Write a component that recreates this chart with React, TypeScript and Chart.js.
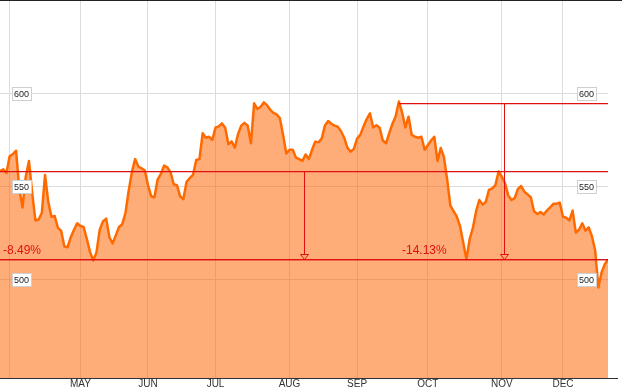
import React, { useEffect, useRef } from "react";
import { Chart, registerables } from "chart.js";

Chart.register(...registerables);

// ---- data ----
const startIndex = -3; // trading-day index of first point (Apr 1 = 0)
const closeValues = [
  558.5, 559.5, 557.5, 566.5, 567.7, 569.5, 549, 539, 555.5, 564,
  547, 532, 532.5, 536, 556.5, 542, 534, 534.4, 528, 526.5,
  518, 517.6, 523, 527, 530.5, 529, 528.5, 522, 515, 510.5,
  515, 527, 531.5, 533, 523, 519.7, 524, 528.5, 530, 536,
  548, 558, 565, 561, 560, 559, 551, 545, 544.5, 554,
  557, 561.5, 560.6, 558, 551.5, 551, 545, 543.4, 552.8, 554.8,
  556.5, 564.5, 565, 578.9, 576.5, 577, 575.3, 581.9, 582.6, 584.2,
  581.9, 573, 574.5, 571.1, 578.5, 583, 584.5, 583, 573.5, 595,
  592, 593, 595.5, 594, 591.5, 589.8, 589, 587, 578, 568,
  570, 570, 565.8, 565, 564, 567.5, 565, 570, 574.4, 574,
  576, 583, 585.5, 584, 583, 582.4, 580, 576.5, 571, 569,
  570.5, 576, 578, 582.5, 586.5, 589.6, 582, 583.2, 581.9, 575,
  573.5, 579, 584, 588, 596, 590, 582, 587.8, 578, 577,
  576.5, 577, 570, 572.5, 575, 577, 564, 571, 566, 554,
  540, 537, 534, 529, 520, 511.2, 522, 528, 537, 543,
  540.5, 542, 548.5, 549.3, 551, 558.3, 555.5, 552, 545.5, 543,
  544, 549, 550.5, 547.5, 546, 544.5, 537, 535.5, 536.5, 535.2,
  537.3, 539, 541, 541, 541.6, 534, 533.5, 532, 537.3, 525.5,
  527, 530.5, 526.5, 528.3, 523.5, 516, 496, 504, 508.5, 511,
];
const monthTickIndex = [0, 22, 43, 64, 87, 108, 130, 153, 172];
const monthTickLabels = ["", "MAY", "JUN", "JUL", "AUG", "SEP", "OCT", "NOV", "DEC"];
const yTickValues = [500, 550, 600];
const yMin = 447.3;
const yMax = 650;

const drawdownHighs = [558.5, 595.2];
const drawdownLows = [511.1, 511.1];
const drawdownStartIndex = [-3, 121];
const drawdownArrowIndex = [91.5, 153.7];
const drawdownLabels = ["-8.49%", "-14.13%"];

const RED = "#e01010";

const overlayPlugin = {
  id: "overlay",
  afterDatasetsDraw(chart: any) {
    const { ctx, chartArea, scales } = chart;
    const xs = scales.x;
    const ys = scales.y;
    ctx.save();

    // red drawdown lines
    ctx.strokeStyle = RED;
    for (let k = 0; k < drawdownHighs.length; k++) {
      const x0 = Math.round(xs.getPixelForValue(drawdownStartIndex[k]));
      const x1 = chartArea.right;
      const yh = Math.round(ys.getPixelForValue(drawdownHighs[k])) + 0.5;
      const yl = Math.round(ys.getPixelForValue(drawdownLows[k])) + 0.5;
      ctx.lineWidth = 1.25;
      ctx.beginPath();
      ctx.moveTo(x0, yh);
      ctx.lineTo(x1, yh);
      ctx.moveTo(0, yl);
      ctx.lineTo(x1, yl);
      ctx.stroke();
      // arrow
      ctx.lineWidth = 1;
      const xa = Math.round(xs.getPixelForValue(drawdownArrowIndex[k])) + 0.5;
      ctx.beginPath();
      ctx.moveTo(xa, yh);
      ctx.lineTo(xa, yl - 5);
      ctx.stroke();
      ctx.beginPath();
      ctx.moveTo(xa - 4, yl - 5);
      ctx.lineTo(xa + 4, yl - 5);
      ctx.lineTo(xa, yl);
      ctx.closePath();
      ctx.stroke();
      // label
      ctx.fillStyle = RED;
      ctx.font = "12px 'Liberation Sans', Arial, sans-serif";
      ctx.textAlign = "left";
      ctx.textBaseline = "alphabetic";
      ctx.fillText(drawdownLabels[k], x0 + 3, yl - 6);
    }

    // y value boxes
    ctx.font = "9px 'Liberation Sans', Arial, sans-serif";
    ctx.textBaseline = "middle";
    ctx.textAlign = "center";
    const boxCenters = [chartArea.left + 21, chartArea.right - 22];
    for (const v of yTickValues) {
      const y = Math.round(ys.getPixelForValue(v));
      for (const cx of boxCenters) {
        const w = 19;
        const h = 13;
        const bx = Math.round(cx - w / 2) + 0.5;
        const by = y - 6.5;
        ctx.fillStyle = "#ffffff";
        ctx.fillRect(bx, by, w, h);
        ctx.strokeStyle = "#cfcfcf";
        ctx.lineWidth = 1;
        ctx.strokeRect(bx, by, w, h);
        ctx.fillStyle = "#222";
        ctx.fillText(String(v), cx + 0.5, y + 0.5);
      }
    }

    // month labels
    ctx.fillStyle = "#333";
    ctx.font = "10px 'Liberation Sans Narrow', 'Liberation Sans', Arial, sans-serif";
    ctx.textAlign = "center";
    ctx.textBaseline = "middle";
    monthTickIndex.forEach((idx, i) => {
      if (!monthTickLabels[i]) return;
      ctx.fillText(monthTickLabels[i], xs.getPixelForValue(idx), chartArea.bottom + 6);
    });

    // frame lines
    ctx.strokeStyle = "#222";
    ctx.lineWidth = 1;
    ctx.beginPath();
    ctx.moveTo(0, 0.5);
    ctx.lineTo(chart.width, 0.5);
    ctx.stroke();
    ctx.strokeStyle = "#333";
    ctx.beginPath();
    ctx.moveTo(0, Math.round(chartArea.bottom) + 0.5);
    ctx.lineTo(chart.width - 4, Math.round(chartArea.bottom) + 0.5);
    ctx.stroke();
    ctx.restore();
  },
};

export default function App() {
  const ref = useRef<HTMLCanvasElement | null>(null);
  useEffect(() => {
    document.body.style.margin = "0";
    if (!ref.current) return;
    const points = closeValues.map((v, i) => ({ x: startIndex + i, y: v }));
    const chart = new Chart(ref.current, {
      type: "line",
      data: {
        datasets: [
          {
            data: points,
            borderColor: "#ff6a00",
            borderWidth: 2.5,
            backgroundColor: "rgba(255,100,0,0.53)",
            fill: "start",
            pointRadius: 0,
            tension: 0,
            borderJoinStyle: "round",
          },
        ],
      },
      options: {
        animation: false,
        responsive: false,
        devicePixelRatio: 1,
        layout: { padding: { top: 1, bottom: 13, left: 0, right: 14 } },
        plugins: { legend: { display: false }, tooltip: { enabled: false } },
        scales: {
          x: {
            type: "linear",
            min: startIndex,
            max: startIndex + closeValues.length - 1,
            afterBuildTicks: (axis: any) => {
              axis.ticks = monthTickIndex.map((v) => ({ value: v }));
            },
            ticks: { display: false },
            grid: { color: "#dcdcdc", lineWidth: 1, drawTicks: false },
            border: { display: false },
          },
          y: {
            min: yMin,
            max: yMax,
            afterBuildTicks: (axis: any) => {
              axis.ticks = yTickValues.map((v) => ({ value: v }));
            },
            ticks: { display: false },
            grid: { color: "#dcdcdc", lineWidth: 1, drawTicks: false },
            border: { display: false },
          },
        },
      },
      plugins: [overlayPlugin],
    });
    return () => chart.destroy();
  }, []);
  return (
    <div style={{ width: 622, height: 391, background: "#fff" }}>
      <canvas ref={ref} width={622} height={391} style={{ display: "block" }} />
    </div>
  );
}
